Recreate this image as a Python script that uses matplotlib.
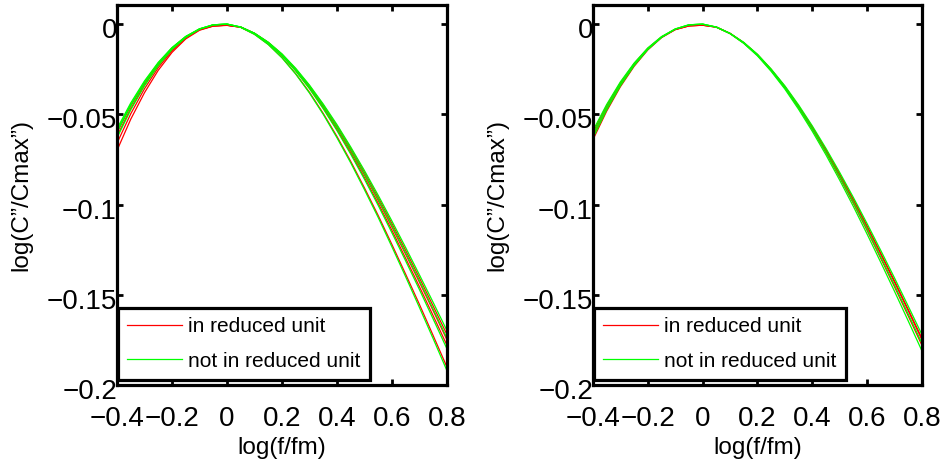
"""
Normalised loss peaks log(C''/Cmax'') vs log(f/fm), two panels,
red = in reduced unit, green = not in reduced unit.
"""
import matplotlib
matplotlib.use("Agg")
import matplotlib.pyplot as plt
from matplotlib.transforms import ScaledTranslation

plt.rcParams["font.family"] = ["Liberation Sans", "DejaVu Sans"]

# shared abscissa of every curve, log(f/fm)
log_f = [-0.4, -0.35, -0.3, -0.25, -0.2, -0.15, -0.1, -0.05, 0.0,
         0.05, 0.1, 0.15, 0.2, 0.25, 0.3, 0.35, 0.4, 0.45, 0.5,
         0.55, 0.6, 0.65, 0.7, 0.75, 0.8]

# left panel, log(C''/Cmax'')
left_red = [
    [-0.0621, -0.0468, -0.0337, -0.0227, -0.0139, -0.0073, -0.0030, -0.0010, -0.0006,
     -0.0017, -0.0052, -0.0103, -0.0170, -0.0253, -0.0348, -0.0456, -0.0573, -0.0701,
     -0.0836, -0.0977, -0.1125, -0.1276, -0.1431, -0.1589, -0.1750],
    [-0.0660, -0.0497, -0.0358, -0.0241, -0.0148, -0.0078, -0.0032, -0.0010, -0.0006,
     -0.0016, -0.0051, -0.0101, -0.0167, -0.0249, -0.0342, -0.0448, -0.0564, -0.0689,
     -0.0822, -0.0961, -0.1106, -0.1255, -0.1407, -0.1563, -0.1721],
    [-0.0700, -0.0527, -0.0380, -0.0256, -0.0157, -0.0082, -0.0034, -0.0011, -0.0007,
     -0.0017, -0.0052, -0.0105, -0.0173, -0.0257, -0.0354, -0.0464, -0.0584, -0.0713,
     -0.0851, -0.0994, -0.1144, -0.1299, -0.1456, -0.1617, -0.1780],
    [-0.0600, -0.0452, -0.0326, -0.0219, -0.0134, -0.0071, -0.0029, -0.0009, -0.0006,
     -0.0018, -0.0056, -0.0112, -0.0185, -0.0275, -0.0378, -0.0495, -0.0623, -0.0761,
     -0.0908, -0.1061, -0.1222, -0.1387, -0.1554, -0.1727, -0.1901],
]
left_green = [
    [-0.0580, -0.0437, -0.0315, -0.0212, -0.0130, -0.0068, -0.0026, -0.0004, 0.0,
     -0.0016, -0.0050, -0.0100, -0.0165, -0.0245, -0.0338, -0.0443, -0.0557, -0.0681,
     -0.0812, -0.0949, -0.1092, -0.1239, -0.1390, -0.1543, -0.1699],
    [-0.0600, -0.0452, -0.0326, -0.0219, -0.0134, -0.0071, -0.0027, -0.0004, 0.0,
     -0.0016, -0.0051, -0.0103, -0.0169, -0.0251, -0.0346, -0.0454, -0.0571, -0.0697,
     -0.0832, -0.0972, -0.1119, -0.1270, -0.1423, -0.1581, -0.1741],
    [-0.0630, -0.0475, -0.0342, -0.0230, -0.0141, -0.0074, -0.0028, -0.0004, 0.0,
     -0.0017, -0.0053, -0.0106, -0.0175, -0.0260, -0.0358, -0.0469, -0.0590, -0.0721,
     -0.0860, -0.1005, -0.1157, -0.1313, -0.1472, -0.1635, -0.1800],
    [-0.0590, -0.0445, -0.0320, -0.0216, -0.0132, -0.0069, -0.0027, -0.0004, 0.0,
     -0.0018, -0.0057, -0.0113, -0.0187, -0.0277, -0.0382, -0.0500, -0.0630, -0.0769,
     -0.0918, -0.1072, -0.1235, -0.1401, -0.1571, -0.1744, -0.1921],
]

# right panel, log(C''/Cmax'')
right_red = [
    [-0.0621, -0.0468, -0.0337, -0.0227, -0.0139, -0.0073, -0.0030, -0.0010, -0.0006,
     -0.0017, -0.0052, -0.0103, -0.0170, -0.0253, -0.0348, -0.0456, -0.0573, -0.0701,
     -0.0836, -0.0977, -0.1125, -0.1276, -0.1431, -0.1589, -0.1750],
    [-0.0640, -0.0482, -0.0347, -0.0234, -0.0143, -0.0075, -0.0031, -0.0010, -0.0006,
     -0.0017, -0.0052, -0.0105, -0.0173, -0.0257, -0.0354, -0.0464, -0.0584, -0.0713,
     -0.0851, -0.0994, -0.1144, -0.1299, -0.1456, -0.1617, -0.1780],
    [-0.0600, -0.0452, -0.0326, -0.0219, -0.0134, -0.0071, -0.0029, -0.0009, -0.0006,
     -0.0016, -0.0051, -0.0103, -0.0169, -0.0251, -0.0346, -0.0454, -0.0571, -0.0697,
     -0.0832, -0.0972, -0.1119, -0.1270, -0.1423, -0.1581, -0.1741],
]
right_green = [
    [-0.0610, -0.0460, -0.0331, -0.0223, -0.0136, -0.0072, -0.0027, -0.0004, 0.0,
     -0.0016, -0.0051, -0.0101, -0.0167, -0.0249, -0.0342, -0.0448, -0.0564, -0.0689,
     -0.0822, -0.0961, -0.1106, -0.1255, -0.1407, -0.1563, -0.1721],
    [-0.0630, -0.0475, -0.0342, -0.0230, -0.0141, -0.0074, -0.0028, -0.0004, 0.0,
     -0.0017, -0.0052, -0.0104, -0.0172, -0.0256, -0.0352, -0.0461, -0.0580, -0.0709,
     -0.0845, -0.0988, -0.1137, -0.1291, -0.1447, -0.1607, -0.1769],
    [-0.0590, -0.0445, -0.0320, -0.0216, -0.0132, -0.0069, -0.0027, -0.0004, 0.0,
     -0.0017, -0.0053, -0.0107, -0.0176, -0.0262, -0.0360, -0.0472, -0.0594, -0.0725,
     -0.0865, -0.1011, -0.1164, -0.1321, -0.1481, -0.1645, -0.1811],
]

x_ticks = [-0.4, -0.2, 0.0, 0.2, 0.4, 0.6, 0.8]
x_tick_labels = ["\u22120.4", "\u22120.2", "0", "0.2", "0.4", "0.6", "0.8"]
y_ticks = [0.0, -0.05, -0.1, -0.15, -0.2]
y_tick_labels = ["0", "\u22120.05", "\u22120.1", "\u22120.15", "\u22120.2"]

legend_labels = ["in reduced unit", "not in reduced unit"]


def drawPanel(fig, ax, reds, greens):
    """
    Draws one panel of curves with MATLAB-like axes and legend.
    """
    for i, y in enumerate(reds):
        ax.plot(log_f, y, color=(1, 0, 0), linewidth=0.9,
                label=legend_labels[0] if i == 0 else None)
    for i, y in enumerate(greens):
        ax.plot(log_f, y, color=(0, 1, 0), linewidth=0.9,
                label=legend_labels[1] if i == 0 else None)

    ax.set_xlim(-0.4, 0.8)
    ax.set_ylim(-0.2, 0.0106)
    ax.set_xticks(x_ticks)
    ax.set_xticklabels(x_tick_labels)
    ax.set_yticks(y_ticks)
    ax.set_yticklabels(y_tick_labels)
    ax.tick_params(direction="in", length=4, width=2, labelsize=20,
                   top=True, right=True)
    ax.tick_params(axis="x", pad=15)
    ax.tick_params(axis="y", pad=0)
    for spine in ax.spines.values():
        spine.set_linewidth(2.3)

    # MATLAB draws the y tick labels a little below their ticks
    shift = ScaledTranslation(0, -4 / 100, fig.dpi_scale_trans)
    for label in ax.get_yticklabels():
        label.set_transform(label.get_transform() + shift)

    ax.set_xlabel("log(f/fm)", fontsize=17.5, labelpad=4)
    ax.set_ylabel("log(C\u201d/Cmax\u201d)", fontsize=17.5, labelpad=10)

    leg = ax.legend(loc="lower left", bbox_to_anchor=(0.003, 0.013),
                    borderaxespad=0, fontsize=15, frameon=True,
                    fancybox=False, framealpha=1, edgecolor="black",
                    handlelength=2.6, handletextpad=0.3,
                    labelspacing=0.75, borderpad=0.45)
    leg.get_frame().set_linewidth(2.3)


def main():
    fig = plt.figure(figsize=(9.45, 4.66), dpi=100)
    axLeft = fig.add_axes([0.1238, 0.1738, 0.3492, 0.8155])
    axRight = fig.add_axes([0.6275, 0.1738, 0.3481, 0.8155])
    drawPanel(fig, axLeft, left_red, left_green)
    drawPanel(fig, axRight, right_red, right_green)
    fig.savefig("out.png", dpi=100)


if __name__ == "__main__":
    main()
